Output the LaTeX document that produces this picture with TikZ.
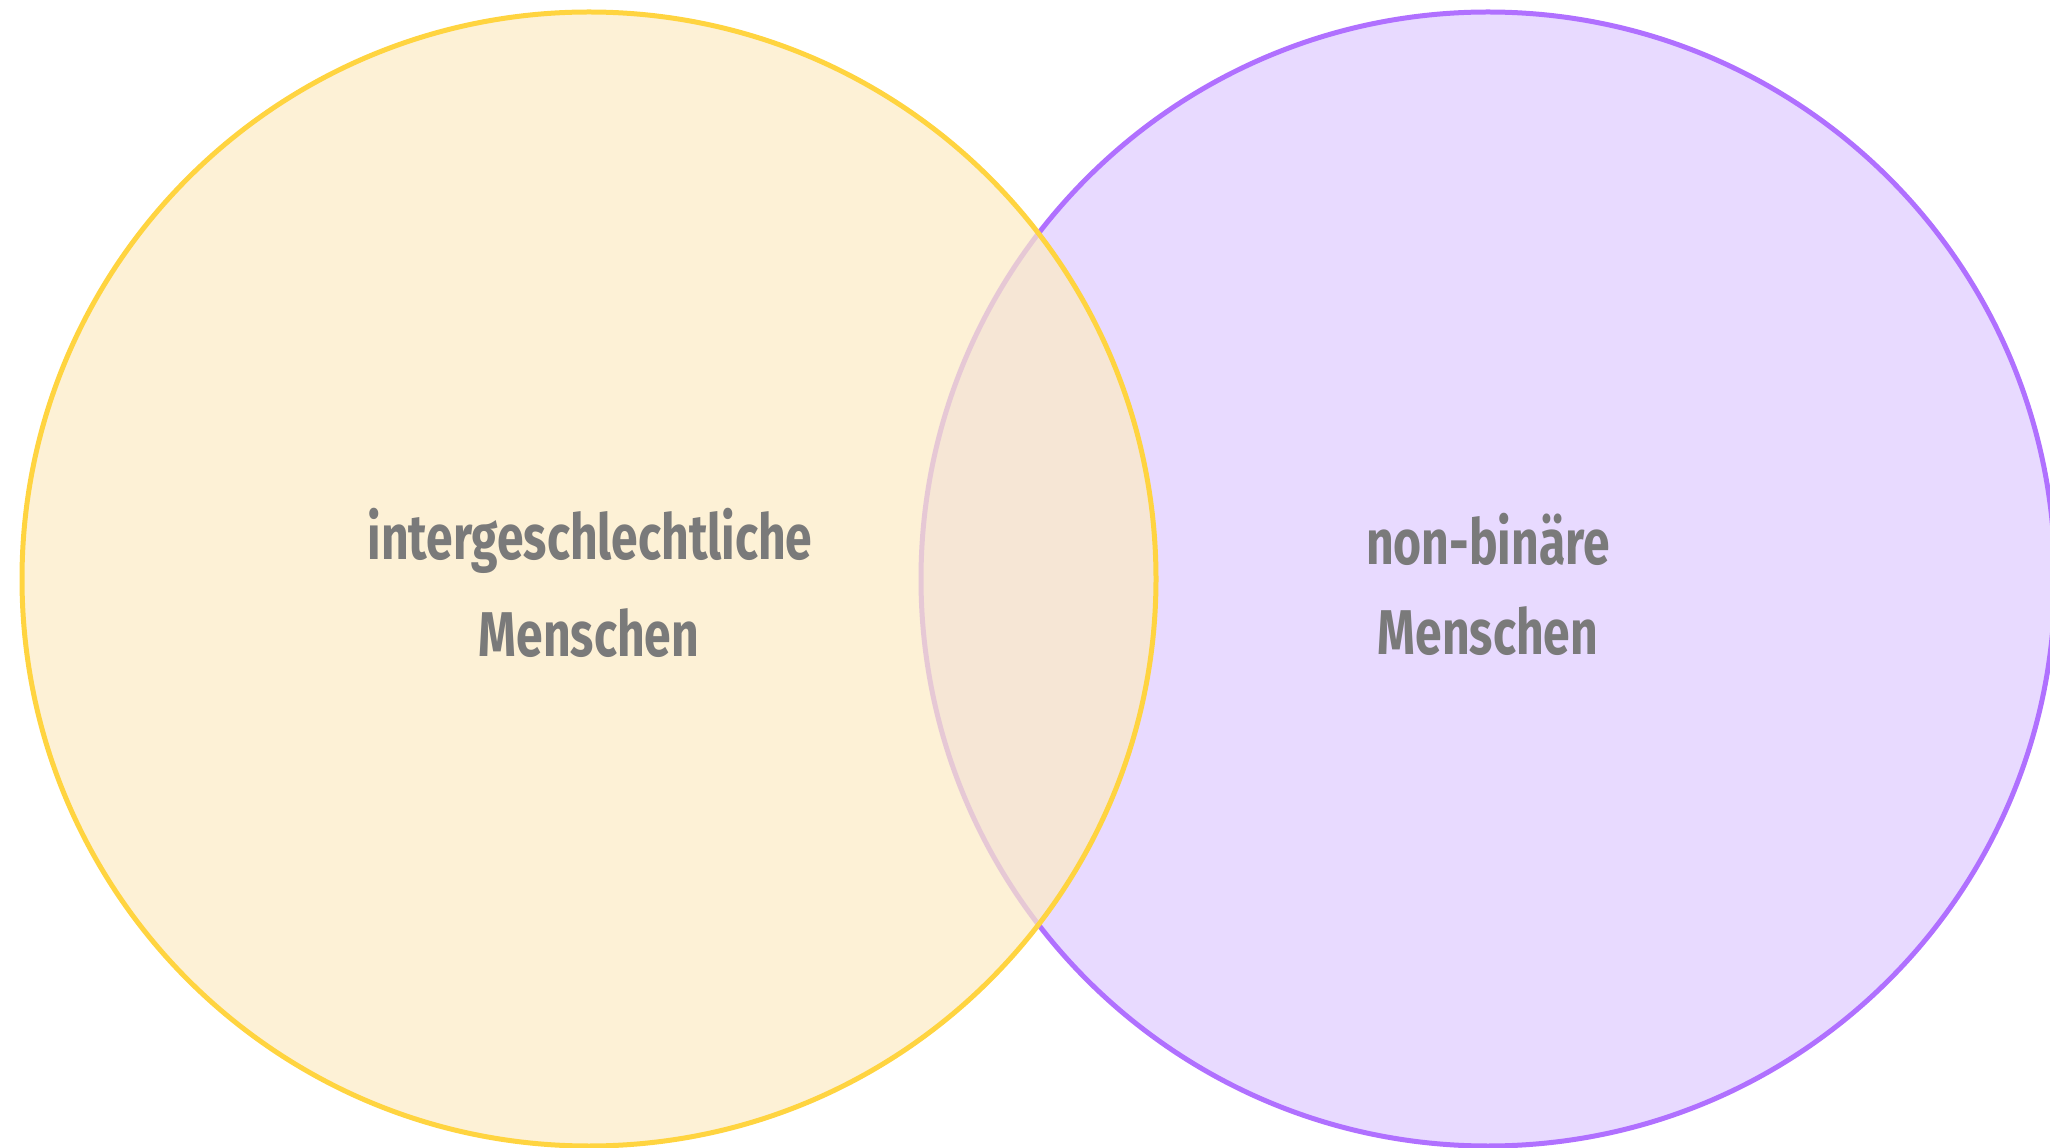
\documentclass[tikz,border=0pt]{standalone}
\usepackage{fontspec}
\setmainfont{Fira Sans}[FakeStretch=0.76]
\definecolor{ystroke}{RGB}{255,212,64}
\definecolor{yfill}{RGB}{252,235,198}
\definecolor{pstroke}{RGB}{176,112,255}
\definecolor{pfill}{RGB}{232,218,255}
\definecolor{txt}{RGB}{122,122,122}
\tikzset{
  lbl/.style={text=txt, font=\fontsize{36}{40}\selectfont\bfseries, inner sep=0pt, anchor=base},
  setcirc/.style={circle, minimum size=1134*0.02cm, inner sep=0pt, line width=0.1cm}
}
\begin{document}
\begin{tikzpicture}[x=0.02cm, y=-0.02cm]
\useasboundingbox (0,0) rectangle (2050,1148);
\begin{scope}
\clip (0,0) rectangle (2050,1148);
\node[setcirc, draw=pstroke, fill=pfill] (nb) at (1488,579) {};
\node[setcirc, draw=ystroke, fill=yfill, fill opacity=0.72] (ig) at (589,579) {};
\end{scope}
\node[lbl] (l1) at (590,560) {intergeschlechtliche};
\node[lbl] (l2) at (589,657) {Menschen};
\node[lbl] (r1) at (1488,565) {non-binäre};
\node[lbl] (r2) at (1488,655) {Menschen};
\end{tikzpicture}
\end{document}
